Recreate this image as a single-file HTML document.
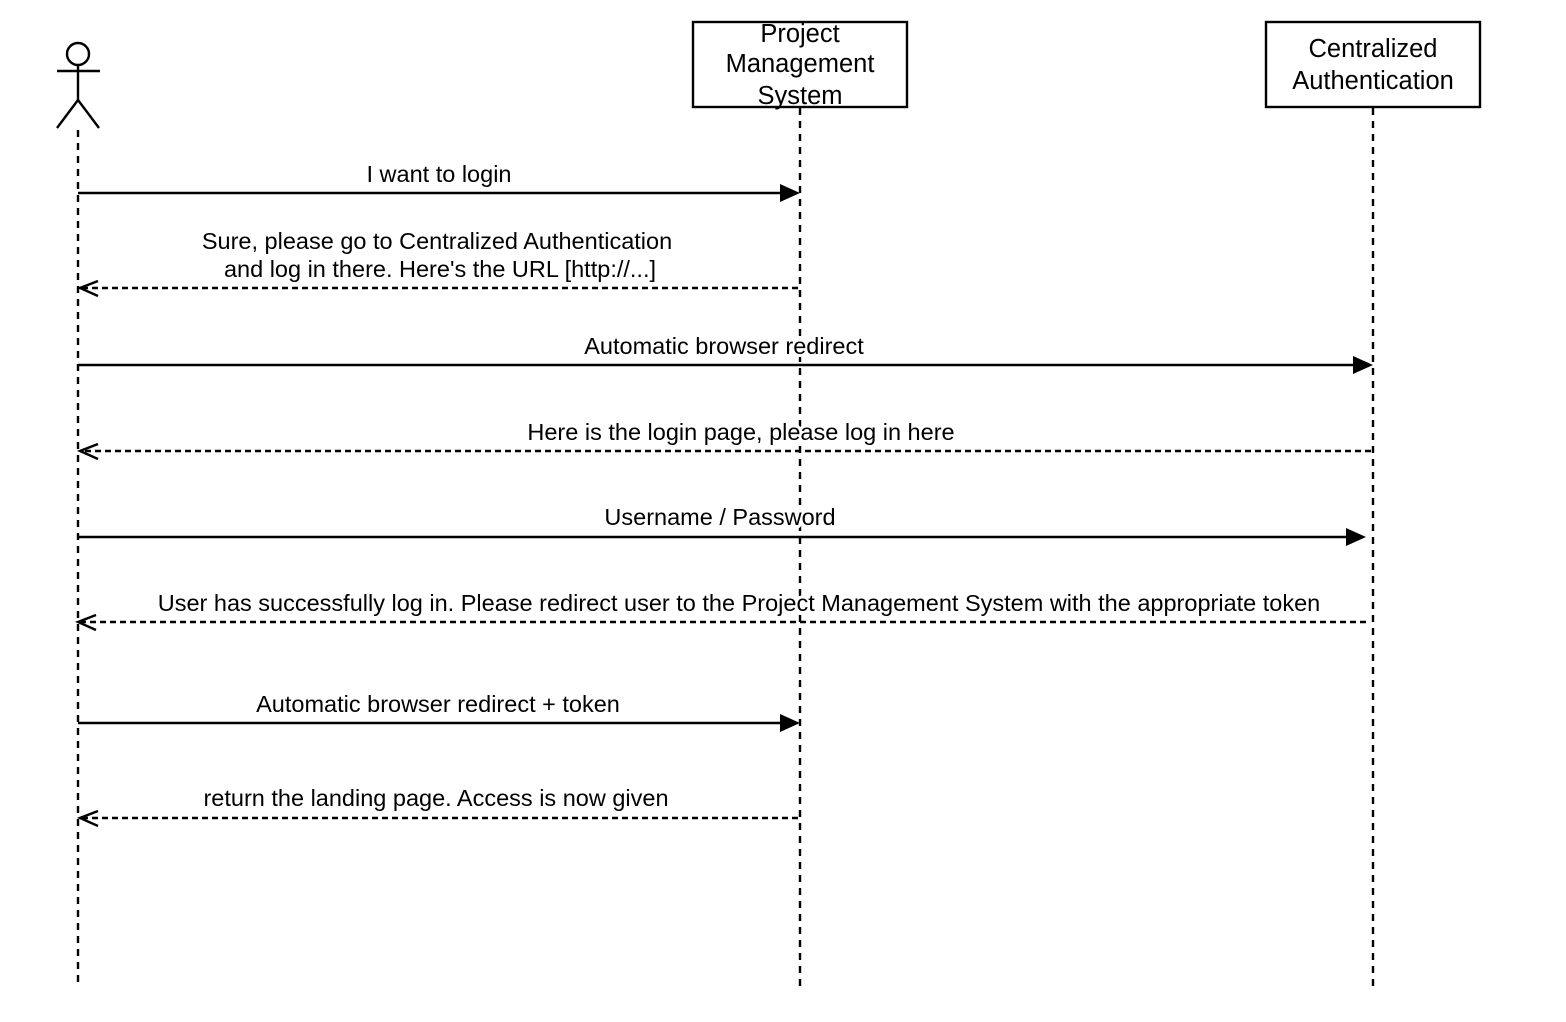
<!DOCTYPE html>
<html><head><meta charset="utf-8"><style>
html,body{margin:0;padding:0;background:#fff;}
svg{display:block}
text{font-family:"Liberation Sans",Arial,sans-serif;font-size:23.5px;fill:#000;text-anchor:middle;paint-order:stroke;stroke:#fff;stroke-width:6px;stroke-linejoin:round}
.nt{stroke:none;font-size:25.5px}
</style></head><body>
<svg width="1566" height="1022" viewBox="0 0 1566 1022" xmlns="http://www.w3.org/2000/svg">
<g stroke="#000" stroke-width="2.4" fill="none">
<line x1="78" y1="130" x2="78" y2="985" stroke-dasharray="7,6"/>
<line x1="800" y1="108" x2="800" y2="988" stroke-dasharray="7,6"/>
<line x1="1373" y1="108" x2="1373" y2="988" stroke-dasharray="7,6"/>
<circle cx="78" cy="54" r="11"/>
<line x1="57" y1="71" x2="100" y2="71"/>
<line x1="78" y1="65" x2="78" y2="100"/>
<line x1="78" y1="100" x2="57" y2="128"/>
<line x1="78" y1="100" x2="99" y2="128"/>
<rect x="693" y="22" width="214" height="85" fill="#fff"/>
<rect x="1266" y="22" width="214" height="85" fill="#fff"/>
<line x1="78" y1="193" x2="782" y2="193"/>
<line x1="798" y1="288" x2="80" y2="288" stroke-dasharray="6,4"/>
<line x1="78" y1="365" x2="1355" y2="365"/>
<line x1="1371" y1="451" x2="80" y2="451" stroke-dasharray="6,4"/>
<line x1="78" y1="537" x2="1348" y2="537"/>
<line x1="1366" y1="622" x2="78" y2="622" stroke-dasharray="6,4"/>
<line x1="78" y1="723" x2="782" y2="723"/>
<line x1="798" y1="818" x2="80" y2="818" stroke-dasharray="6,4"/>
<polyline points="98,281 80,288 98,296"/>
<polyline points="98,444 80,451 98,459"/>
<polyline points="96,615 78,622 96,630"/>
<polyline points="98,811 80,818 98,826"/>
</g>
<g fill="#000">
<polygon points="780,184 800,193 780,202"/>
<polygon points="1353,356 1373,365 1353,374"/>
<polygon points="1346,528 1366,537 1346,546"/>
<polygon points="780,714 800,723 780,732"/>
</g>
<text class="nt" x="800" y="42">Project</text>
<text class="nt" x="800" y="72">Management</text>
<text class="nt" x="800" y="104">System</text>
<text class="nt" x="1373" y="57">Centralized</text>
<text class="nt" x="1373" y="89">Authentication</text>
<text x="439" y="182">I want to login</text>
<text x="437" y="249">Sure, please go to Centralized Authentication</text>
<text x="440" y="277">and log in there. Here's the URL [http://...]</text>
<text x="724" y="354">Automatic browser redirect</text>
<text x="741" y="440">Here is the login page, please log in here</text>
<text x="720" y="525">Username / Password</text>
<text x="739" y="611">User has successfully log in. Please redirect user to the Project Management System with the appropriate token</text>
<text x="438" y="712">Automatic browser redirect + token</text>
<text x="436" y="806">return the landing page. Access is now given</text>
</svg>
</body></html>
